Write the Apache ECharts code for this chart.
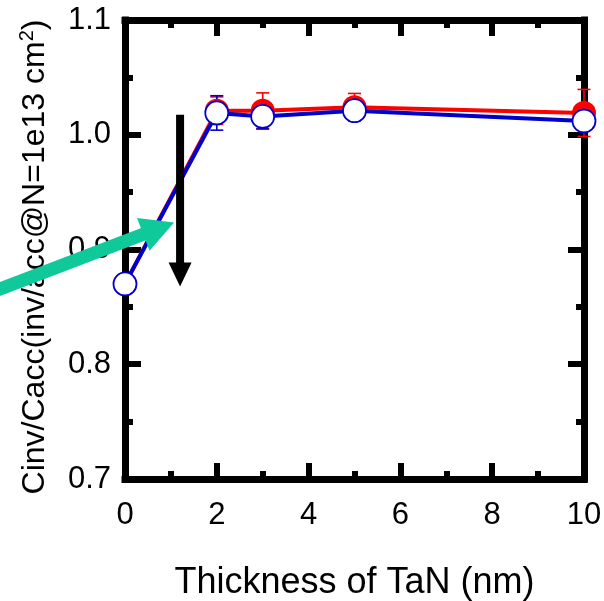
<!DOCTYPE html>
<html>
<head>
<meta charset="utf-8">
<script src="https://cdn.jsdelivr.net/npm/echarts@6/dist/echarts.min.js"></script>
<style>
  html, body { margin: 0; padding: 0; background: #fff; }
  #chart { width: 604px; height: 601px; }
</style>
</head>
<body>
<div id="chart"></div>
<script>
// TaN thickness (nm)
const thickness = [0, 2, 3, 5, 10];
// Cinv/Cacc, red (filled) series and its error
const ratioRed = [0.870, 1.021, 1.021, 1.024, 1.019];
const errRed   = [0, 0.012, 0.0155, 0.012, 0.0205];
// Cinv/Cacc, blue (open) series and its error
const ratioBlue = [0.870, 1.019, 1.016, 1.021, 1.012];
const errBlue   = [0, 0.015, 0.011, 0.008, 0.008];
// axis ranges: min, max, interval
const xRange = [0, 10, 2];
const yRange = [0.7, 1.1, 0.1];

// annotation arrows, given in data units (tail, tip)
const downArrow = { tail: [1.2, 1.0174], tip: [1.2, 0.8678] };
const tealArrow = { tail: [-2.86, 0.8635], tip: [1.07, 0.9235] };

const FONT = 'Liberation Sans, Arial, sans-serif';
const RED = '#ff0000';
const BLUE = '#0000cc';
const TEAL = '#10c99b';

const chart = echarts.init(document.getElementById('chart'), null, { renderer: 'canvas' });

const frameLine = { color: '#000', width: 7, cap: 'square' };
const majorTick = { show: true, inside: true, length: 16, lineStyle: { color: '#000', width: 6 } };
const minorTick = { show: true, splitNumber: 2, length: 8, lineStyle: { color: '#000', width: 6 } };

function makeX(pos, labels) {
  return {
    type: 'value', position: pos, gridIndex: 0,
    min: xRange[0], max: xRange[1], interval: xRange[2],
    axisLine: { show: true, onZero: false, lineStyle: frameLine },
    axisTick: majorTick, minorTick: minorTick,
    splitLine: { show: false }, minorSplitLine: { show: false },
    axisLabel: { show: labels, margin: 21, fontSize: 31, color: '#000', fontFamily: FONT },
    name: labels ? 'Thickness of TaN (nm)' : '',
    nameLocation: 'middle', nameGap: 86,
    nameTextStyle: { fontSize: 36, color: '#000', fontFamily: FONT }
  };
}
function makeY(pos, labels) {
  return {
    type: 'value', position: pos, gridIndex: 0,
    min: yRange[0], max: yRange[1], interval: yRange[2],
    axisLine: { show: true, onZero: false, lineStyle: frameLine },
    axisTick: majorTick, minorTick: minorTick,
    splitLine: { show: false }, minorSplitLine: { show: false },
    axisLabel: { show: labels, margin: 14, fontSize: 31, color: '#000', fontFamily: FONT,
                 formatter: v => v.toFixed(1) }
  };
}

function errorBars(color) {
  return function (params, api) {
    const x = api.value(0), y = api.value(1), e = api.value(2);
    if (!e) return null;
    const top = api.coord([x, y + e]);
    const bot = api.coord([x, y - e]);
    const hw = 6.5;
    const style = { stroke: color, lineWidth: 1.6 };
    return {
      type: 'group',
      children: [
        { type: 'line', shape: { x1: top[0], y1: top[1], x2: bot[0], y2: bot[1] }, style },
        { type: 'line', shape: { x1: top[0] - hw, y1: top[1], x2: top[0] + hw, y2: top[1] }, style },
        { type: 'line', shape: { x1: bot[0] - hw, y1: bot[1], x2: bot[0] + hw, y2: bot[1] }, style }
      ]
    };
  };
}

const redPts = thickness.map((t, i) => [t, ratioRed[i]]);
const bluePts = thickness.map((t, i) => [t, ratioBlue[i]]);

chart.setOption({
  animation: false,
  backgroundColor: '#fff',
  grid: { left: 125, top: 20, right: 20, bottom: 122, containLabel: false, outerBoundsMode: 'none' },
  xAxis: [makeX('bottom', true), makeX('top', false)],
  yAxis: [makeY('left', true), makeY('right', false)],
  series: [
    {
      type: 'custom', name: 'errRed', clip: false,
      data: thickness.map((t, i) => [t, ratioRed[i], errRed[i]]),
      encode: { x: 0, y: 1 }, renderItem: errorBars(RED), silent: true
    },
    {
      type: 'line', name: 'red', data: redPts, clip: false,
      symbol: 'circle', symbolSize: 24,
      itemStyle: { color: RED },
      lineStyle: { color: RED, width: 4 },
      emphasis: { disabled: true }, silent: true
    },
    {
      type: 'custom', name: 'errBlue', clip: false,
      data: thickness.map((t, i) => [t, ratioBlue[i], errBlue[i]]),
      encode: { x: 0, y: 1 }, renderItem: errorBars(BLUE), silent: true
    },
    {
      type: 'line', name: 'blue', data: bluePts, clip: false,
      symbol: 'circle', symbolSize: 23,
      itemStyle: { color: '#fff', borderColor: BLUE, borderWidth: 1.8 },
      lineStyle: { color: BLUE, width: 4 },
      emphasis: { disabled: true }, silent: true
    }
  ]
});

// arrow built from a shaft and a triangular head, in pixels
function arrow(a, shaftW, headLen, headW, color, z) {
  const p0 = chart.convertToPixel({ xAxisIndex: 0, yAxisIndex: 0 }, a.tail);
  const p1 = chart.convertToPixel({ xAxisIndex: 0, yAxisIndex: 0 }, a.tip);
  const dx = p1[0] - p0[0], dy = p1[1] - p0[1];
  const L = Math.hypot(dx, dy);
  const ux = dx / L, uy = dy / L, nx = -uy, ny = ux;
  const bx = p1[0] - ux * headLen, by = p1[1] - uy * headLen;
  return [
    { type: 'line', z: z, silent: true,
      shape: { x1: p0[0], y1: p0[1], x2: bx + ux, y2: by + uy },
      style: { stroke: color, lineWidth: shaftW, lineCap: 'butt' } },
    { type: 'polygon', z: z, silent: true,
      shape: { points: [[p1[0], p1[1]],
                        [bx + nx * headW / 2, by + ny * headW / 2],
                        [bx - nx * headW / 2, by - ny * headW / 2]] },
      style: { fill: color } }
  ];
}

const yTitle = {
  type: 'text', z: 50, silent: true,
  x: 35, y: 257, rotation: Math.PI / 2,
  style: {
    text: '{m|Cinv/Cacc(inv/acc@N=1e13 cm}{s|2}{m|)}',
    align: 'center', verticalAlign: 'middle',
    rich: {
      m: { fontSize: 32, fontFamily: FONT, fill: '#000', lineHeight: 36 },
      s: { fontSize: 20, fontFamily: FONT, fill: '#000', verticalAlign: 'top', lineHeight: 20 }
    }
  }
};

chart.setOption({
  graphic: [yTitle]
    .concat(arrow(downArrow, 8, 24, 23, '#000', 60))
    .concat(arrow(tealArrow, 13, 33, 35, TEAL, 70))
});
</script>
</body>
</html>
